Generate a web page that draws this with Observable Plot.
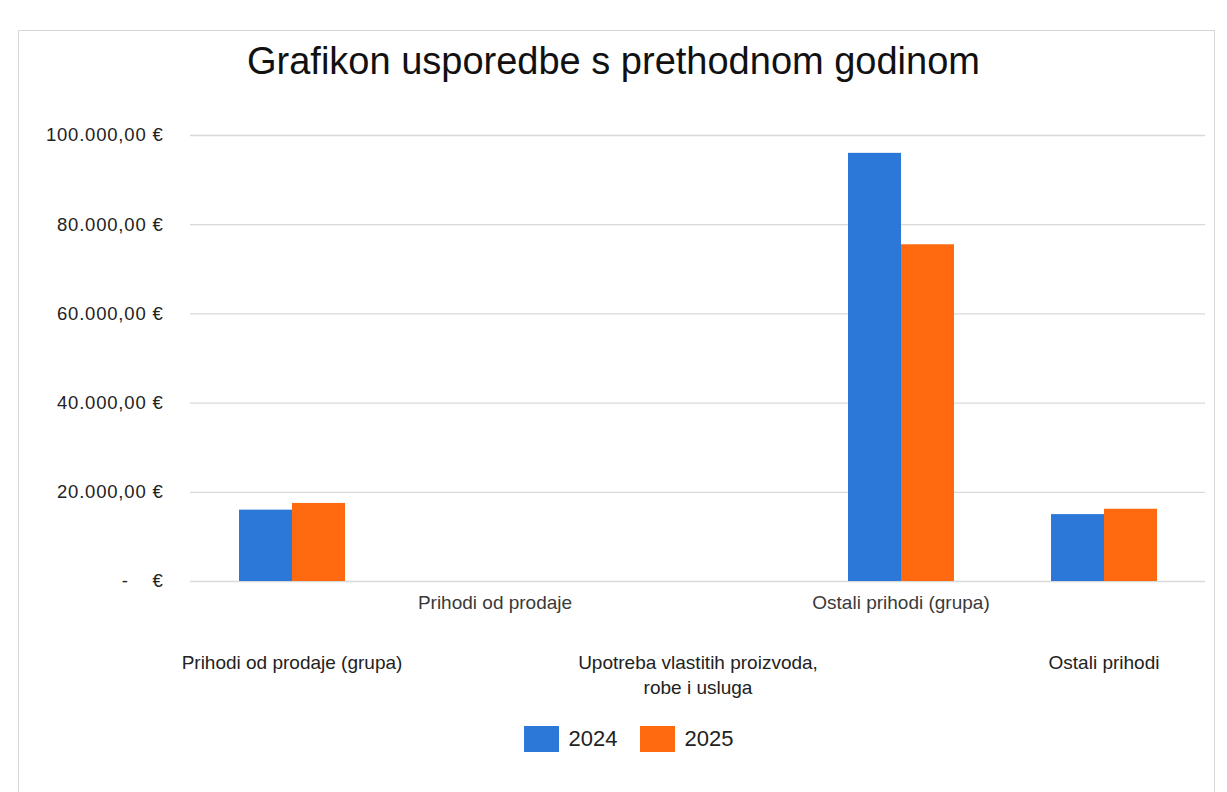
<!DOCTYPE html>
<html>
<head>
<meta charset="utf-8">
<script src="https://cdn.jsdelivr.net/npm/d3@7"></script>
<script src="https://cdn.jsdelivr.net/npm/@observablehq/plot@0.6"></script>
<style>
  html, body { margin: 0; padding: 0; background: #fff; }
  body { width: 1227px; height: 792px; overflow: hidden; position: relative; font-family: "Liberation Sans", Arial, sans-serif; }
  #frame { position: absolute; left: 18px; top: 30px; width: 1197px; height: 780px; border: 1px solid #d6d6d6; box-sizing: border-box; }
  #title { position: absolute; left: 0; top: 40px; width: 1227px; text-align: center; font-size: 38px; color: #111; }
  #chart { position: absolute; left: 0; top: 100px; }
  #legend { position: absolute; left: 0; top: 726px; width: 1227px; display: flex; justify-content: center; align-items: center; font-size: 22px; color: #222; gap: 10px; padding-left: 30px; box-sizing: border-box; }
  .sw { width: 35px; height: 26px; display: inline-block; margin-right: 10px; }
  .item { display: flex; align-items: center; margin: 0 6px; }
  g[aria-label="y-axis tick label"] text { letter-spacing: 0.8px; }
</style>
</head>
<body>
<div id="frame"></div>
<div id="title">Grafikon usporedbe s prethodnom godinom</div>
<div id="chart"></div>
<div id="legend"></div>
<script>
const categories = [
  "Prihodi od prodaje (grupa)",
  "Prihodi od prodaje",
  "Upotreba vlastitih proizvoda,\nrobe i usluga",
  "Ostali prihodi (grupa)",
  "Ostali prihodi"
];
const years = ["2024", "2025"];
const values2024 = [16000, 0, 0, 96000, 15000];
const values2025 = [17500, 0, 0, 75500, 16200];
const yTicks = [0, 20000, 40000, 60000, 80000, 100000];
const colors = ["#2b78d8", "#ff6a10"];

const data = [];
categories.forEach((c, i) => {
  data.push({category: c, year: years[0], value: values2024[i]});
  data.push({category: c, year: years[1], value: values2025[i]});
});

const fmt = v => {
  if (v === 0) return "-\u00a0\u00a0\u00a0\u00a0€";
  const s = d3.format(",.2f")(v);
  return s.replace(/,/g, "#").replace(".", ",").replace(/#/g, ".") + " €";
};

const upper = categories.filter((c, i) => i % 2 === 1);
const lower = categories.filter((c, i) => i % 2 === 0);

const chart = Plot.plot({
  width: 1227,
  height: 606,
  marginLeft: 190,
  marginRight: 22,
  marginTop: 35,
  marginBottom: 125,
  style: {fontFamily: "Liberation Sans, Arial, sans-serif", background: "transparent"},
  fx: {domain: categories, padding: 0, label: null},
  x: {domain: years, paddingInner: 0, paddingOuter: 0.88, axis: null},
  y: {domain: [0, 100000], label: null},
  color: {domain: years, range: colors},
  marks: [
    Plot.ruleY(yTicks, {stroke: "#d9d9d9", strokeWidth: 1.3}),
    Plot.barY(data, {fx: "category", x: "year", y: "value", fill: "year", inset: 0}),
    Plot.axisY({ticks: yTicks, tickFormat: fmt, tickSize: 0, tickPadding: 27, fontSize: 18.5, fill: "#222"}),
    Plot.axisFx({anchor: "bottom", ticks: upper, tickSize: 0, tickPadding: 14, fontSize: 19, fill: "#3a3a3a", label: null}),
    Plot.axisFx({anchor: "bottom", ticks: lower, tickSize: 0, tickPadding: 70, fontSize: 19, fill: "#222", label: null, lineHeight: 1.3})
  ]
});
document.getElementById("chart").appendChild(chart);

const legend = document.getElementById("legend");
years.forEach((y, i) => {
  const item = document.createElement("div");
  item.className = "item";
  const sw = document.createElement("span");
  sw.className = "sw";
  sw.style.background = colors[i];
  item.appendChild(sw);
  item.appendChild(document.createTextNode(y));
  legend.appendChild(item);
});
</script>
</body>
</html>
